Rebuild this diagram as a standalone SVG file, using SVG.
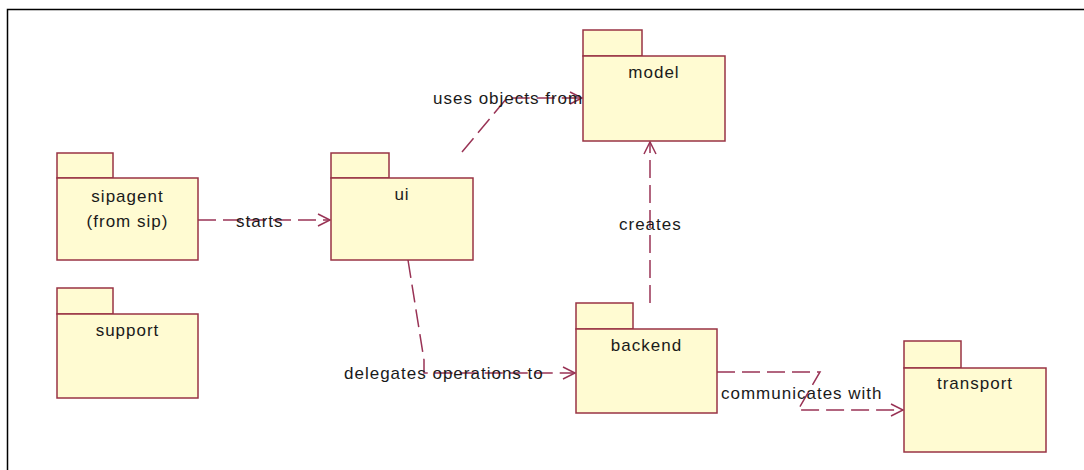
<svg xmlns="http://www.w3.org/2000/svg" width="1084" height="470" viewBox="0 0 1084 470">
<style>
.pkg{fill:#fffbd2;stroke:#993344;stroke-width:1.5}
.lbl{font-family:"Liberation Sans",Arial,sans-serif;font-size:17px;letter-spacing:1px;fill:#1a1a1a;text-anchor:middle}
.con{fill:none;stroke:#993355;stroke-width:1.5;stroke-dasharray:18 7}
.head{fill:none;stroke:#993355;stroke-width:1.5}
.clbl{font-family:"Liberation Sans",Arial,sans-serif;font-size:17px;letter-spacing:1px;fill:#1a1a1a}
</style>
<rect width="1084" height="470" fill="#ffffff"/>
<path d="M7.5 470 V9.5 H1084" fill="none" stroke="#000" stroke-width="1.5"/>

<g id="connectors">
  <g id="c-starts">
    <path class="con" d="M198 220 H330"/>
    <path class="head" d="M318 214 L330 220 L318 226"/>
    <text class="clbl" x="236" y="227">starts</text>
  </g>
  <g id="c-uses">
    <path class="con" d="M462 152 L507 98 H582"/>
    <path class="head" d="M570 92 L582 98 L570 104"/>
    <text class="clbl" x="433" y="104">uses objects from</text>
  </g>
  <g id="c-delegates">
    <path class="con" d="M408 260 L424 360 V373 H575"/>
    <path class="head" d="M563 367 L575 373 L563 379"/>
    <text class="clbl" x="344" y="379">delegates operations to</text>
  </g>
  <g id="c-creates">
    <path class="con" d="M650 303 V142"/>
    <path class="head" d="M644 154 L650 142 L656 154"/>
    <text class="clbl" x="619" y="230">creates</text>
  </g>
  <g id="c-communicates">
    <path class="con" d="M717 372 H820 L798 410 H903"/>
    <path class="head" d="M891 404 L903 410 L891 416"/>
    <text class="clbl" x="721" y="399">communicates with</text>
  </g>
</g>

<g id="sipagent">
  <rect class="pkg" x="57" y="153" width="56" height="25"/>
  <rect class="pkg" x="57" y="178" width="141" height="82"/>
  <text class="lbl" x="127.5" y="202">sipagent</text>
  <text class="lbl" x="127.5" y="227">(from sip)</text>
</g>
<g id="support">
  <rect class="pkg" x="57" y="288" width="56" height="26"/>
  <rect class="pkg" x="57" y="314" width="141" height="84"/>
  <text class="lbl" x="127.5" y="336">support</text>
</g>
<g id="ui">
  <rect class="pkg" x="331" y="153" width="58" height="25"/>
  <rect class="pkg" x="331" y="178" width="142" height="82"/>
  <text class="lbl" x="402" y="200">ui</text>
</g>
<g id="model">
  <rect class="pkg" x="583" y="30" width="59" height="26"/>
  <rect class="pkg" x="583" y="56" width="142" height="85"/>
  <text class="lbl" x="654" y="78">model</text>
</g>
<g id="backend">
  <rect class="pkg" x="576" y="303" width="57" height="26"/>
  <rect class="pkg" x="576" y="329" width="141" height="84"/>
  <text class="lbl" x="646.5" y="351">backend</text>
</g>
<g id="transport">
  <rect class="pkg" x="904" y="341" width="57" height="27"/>
  <rect class="pkg" x="904" y="368" width="142" height="84"/>
  <text class="lbl" x="975" y="389">transport</text>
</g>
</svg>
